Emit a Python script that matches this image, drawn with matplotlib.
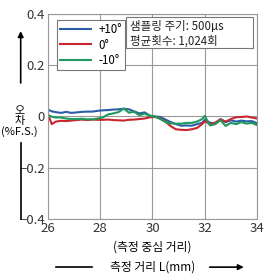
import matplotlib.pyplot as plt
from matplotlib.patches import Rectangle
import numpy as np

plt.rcParams['font.family'] = ['Noto Sans CJK KR', 'DejaVu Sans']

# distance (mm)
dist = [26.0, 26.15, 26.3, 26.5, 26.7, 26.9, 27.1, 27.3, 27.5, 27.7, 27.9,
        28.1, 28.3, 28.5, 28.7, 28.9, 29.1, 29.3, 29.5, 29.7, 29.9, 30.1,
        30.3, 30.5, 30.7, 30.9, 31.1, 31.3, 31.5, 31.7, 31.9, 32.0, 32.2,
        32.4, 32.6, 32.8, 33.0, 33.2, 33.4, 33.6, 33.8, 34.0]
plus10 = [0.027, 0.020, 0.017, 0.014, 0.018, 0.014, 0.016, 0.018, 0.019, 0.019,
          0.022, 0.024, 0.025, 0.027, 0.028, 0.030, 0.028, 0.020, 0.012, 0.016,
          0.003, 0.000, -0.002, -0.012, -0.022, -0.030, -0.036, -0.035, -0.036,
          -0.030, -0.025, -0.013, -0.024, -0.028, -0.010, -0.022, -0.015, -0.020,
          -0.016, -0.019, -0.018, -0.026]
zero = [0.010, -0.030, -0.020, -0.017, -0.018, -0.016, -0.014, -0.012, -0.014,
        -0.012, -0.013, -0.013, -0.012, -0.014, -0.015, -0.016, -0.013, -0.012,
        -0.010, -0.008, -0.003, -0.002, -0.008, -0.020, -0.038, -0.050, -0.052,
        -0.053, -0.050, -0.045, -0.030, -0.018, -0.030, -0.024, -0.012, -0.020,
        -0.010, -0.003, -0.002, 0.000, -0.004, -0.008]
minus10 = [0.006, -0.001, -0.004, -0.004, -0.008, -0.010, -0.010, -0.009, -0.011,
           -0.011, -0.008, -0.004, 0.008, 0.012, 0.017, 0.031, 0.015, 0.018,
           0.005, 0.011, 0.003, 0.000, -0.010, -0.022, -0.027, -0.028, -0.028,
           -0.025, -0.025, -0.020, -0.010, 0.002, -0.035, -0.030, -0.015, -0.037,
           -0.025, -0.030, -0.022, -0.028, -0.025, -0.034]

fig = plt.figure(figsize=(2.8, 2.8), dpi=100)
ax = fig.add_axes([0.171, 0.218, 0.747, 0.732])

ax.plot(dist, plus10, color='#2b5da6', lw=1.5, label='+10°')
ax.plot(dist, zero, color='#c8262e', lw=1.5, label='0°')
ax.plot(dist, minus10, color='#1e9a5c', lw=1.5, label='-10°')

ax.set_xlim(26, 34)
ax.set_ylim(-0.4, 0.4)
ax.set_xticks([26, 28, 30, 32, 34])
ax.set_yticks([-0.4, -0.2, 0, 0.2, 0.4])
ax.set_yticklabels(['−0.4', '−0.2', '0', '0.2', '0.4'])
ax.tick_params(labelsize=9.5, length=0, pad=2, colors='#333333')
ax.grid(True, color='#999999', lw=0.8)
for s in ax.spines.values():
    s.set_color('#999999')
    s.set_linewidth(0.8)

leg = ax.legend(loc='upper left', bbox_to_anchor=(0.015, 1.0), fontsize=8.3,
                handlelength=2.7, handletextpad=0.6, labelspacing=0.2,
                borderpad=0.3, fancybox=False, framealpha=1)
leg.get_frame().set_edgecolor('#777777')
leg.get_frame().set_linewidth(0.8)

# sampling info box
ax.add_patch(Rectangle((0.373, 0.834), 0.608, 0.151, transform=ax.transAxes,
                       fc='white', ec='#777777', lw=0.8, zorder=5))
ax.text(0.395, 0.937, '샘플링 주기: 500µs', transform=ax.transAxes,
        fontsize=8.3, va='center', ha='left', color='#222222', zorder=6)
ax.text(0.395, 0.868, '평균횟수: 1,024회', transform=ax.transAxes,
        fontsize=8.3, va='center', ha='left', color='#222222', zorder=6)

# y label with arrow
ax.text(-0.135, 0.475, '오\n차\n(%F.S.)', transform=ax.transAxes, fontsize=8,
        ha='center', va='center', linespacing=1.0)
ax.annotate('', xy=(-0.13, 0.93), xytext=(-0.13, 0.65), xycoords='axes fraction',
            arrowprops=dict(arrowstyle='-|>', color='black', lw=1.2,
                            mutation_scale=8))
ax.plot([-0.13, -0.13], [0.0, 0.37], transform=ax.transAxes, color='black',
        lw=1.2, clip_on=False)

# x labels
ax.text(0.5, -0.135, '(측정 중심 거리)', transform=ax.transAxes, fontsize=8.5,
        ha='center', va='center')
ax.text(0.5, -0.235, '측정 거리 L(mm)', transform=ax.transAxes, fontsize=8.5,
        ha='center', va='center')
ax.plot([0.04, 0.21], [-0.235, -0.235], transform=ax.transAxes, color='black',
        lw=1.2, clip_on=False)
ax.annotate('', xy=(0.95, -0.235), xytext=(0.76, -0.235),
            xycoords='axes fraction',
            arrowprops=dict(arrowstyle='-|>', color='black', lw=1.2,
                            mutation_scale=8))

fig.savefig('out.png', dpi=100)
